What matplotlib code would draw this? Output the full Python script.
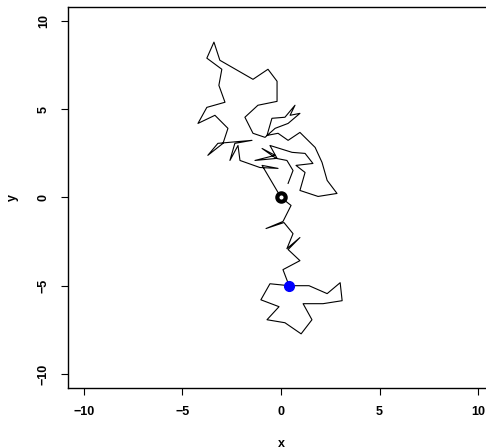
import matplotlib
matplotlib.use("Agg")
import matplotlib.pyplot as plt

# random walk path
walk_x = [0.36, 0.61, 0.30,
          -0.25, -0.96, -0.30, -1.32, -0.20, -0.56, 0.56, 1.22, 1.62, 0.76, 1.22,
          0.96, 1.88, 2.84, 2.34, 2.08, 1.73, 0.96, 0.36, -0.15, -0.71,
          -0.46, 0.20, 0.71, 0.46, 0.96, 0.36, -0.30, -0.81, -1.42, -1.83,
          -1.17, -0.20, -0.20, -0.66, -1.42, -3.10, -3.40, -3.76, -3.00, -3.15,
          -2.84, -3.76, -4.21, -3.35, -2.69, -2.94, -3.71, -3.20, -1.47, -2.34,
          -2.59, -2.18, -2.08, -1.07, -0.15, -0.96, 0.00, 0.51, 0.10, -0.76,
          0.15, 0.61, 0.30, 0.96, 0.36, 0.96, 0.10, 0.41, -0.56, -1.02,
          -0.10, -0.71, 0.20, 1.02, 1.57, 1.12, 2.13, 3.10, 3.00, 2.34,
          1.42, 0.41]
walk_y = [0.80, 1.53, 2.10,
          2.22, 2.78, 2.39, 2.10, 2.22, 2.95, 2.56, 2.50, 1.93, 1.82, 1.42,
          0.40, 0.06, 0.23, 0.97, 1.99, 2.84, 3.69, 3.24, 3.64, 3.52,
          4.49, 4.55, 5.23, 4.66, 4.77, 4.20, 3.92, 3.41, 3.64, 4.55,
          5.23, 5.45, 6.59, 7.27, 6.70, 7.78, 8.81, 7.90, 7.27, 6.36,
          5.40, 5.11, 4.20, 4.66, 3.92, 3.07, 2.39, 3.07, 3.24, 3.07,
          2.10, 2.95, 2.10, 1.70, 1.65, 1.82, 0.00, -0.45, -1.36, -1.76,
          -1.42, -2.05, -2.90, -2.27, -2.95, -3.58, -4.09, -5.00, -4.89, -5.80,
          -6.19, -6.93, -7.10, -7.73, -6.93, -6.02, -6.02, -5.85, -4.83, -5.45,
          -5.00, -5.00]

start_pt = (0.0, 0.0)
end_pt = (walk_x[-1], walk_y[-1])
ticks = [-10, -5, 0, 5, 10]

plt.rcParams['font.family'] = ['Liberation Sans', 'DejaVu Sans']

fig = plt.figure(figsize=(4.86, 4.48), dpi=100)
ax = fig.add_axes([68 / 486, 60 / 448, 426 / 486, 381 / 448])

ax.plot(walk_x, walk_y, color='black', lw=0.8)
ax.plot(*start_pt, 'o', ms=6, mfc='white', mec='black', mew=3)
ax.plot(*end_pt, 'o', ms=7, mfc='blue', mec='blue')

ax.set_xlim(-10.8, 10.8)
ax.set_ylim(-10.8, 10.8)
ax.set_xticks(ticks)
ax.set_yticks(ticks)
ax.set_xticklabels([str(t).replace('-', '\u2212') for t in ticks], fontweight='bold', fontsize=9)
ax.set_yticklabels([str(t).replace('-', '\u2212') for t in ticks], fontweight='bold', fontsize=9,
                   rotation=90, va='center')
ax.tick_params(direction='out', length=5, width=0.8, pad=8)
for s in ax.spines.values():
    s.set_linewidth(1.0)

ax.set_xlabel('x', fontweight='bold', fontsize=9, labelpad=14)
ax.set_ylabel('y', fontweight='bold', fontsize=9, labelpad=14)

fig.savefig('out.png', dpi=100)
